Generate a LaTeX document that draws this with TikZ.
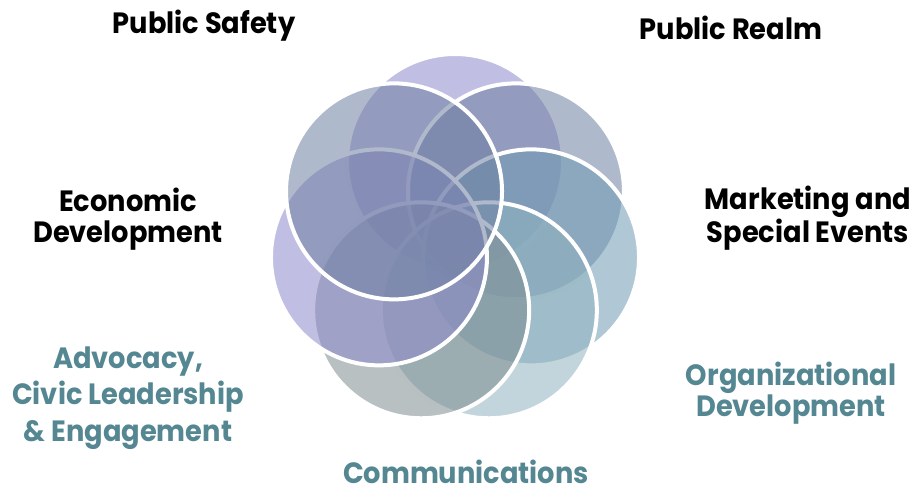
\documentclass[tikz,border=0pt]{standalone}
\usepackage{fontspec}
\newfontfamily\lblfont{Poppins}[FakeStretch=0.93]
\definecolor{petLav}{RGB}{141,137,202}
\definecolor{petSlate}{RGB}{110,128,162}
\definecolor{petSteel}{RGB}{111,155,180}
\definecolor{petAqua}{RGB}{144,179,191}
\definecolor{petSage}{RGB}{126,140,144}
\definecolor{lblTeal}{RGB}{84,135,146}
\tikzset{
  petal/.style={draw=white, line width=3pt, fill opacity=0.55},
  lbl/.style={font=\lblfont\bfseries\fontsize{22}{23.5}\selectfont, align=center, text=black},
  lblteal/.style={lbl, text=lblTeal}
}
\begin{document}
\begin{tikzpicture}[x=0.75pt, y=0.75pt]
        \useasboundingbox (0,0) rectangle (916,494);
        \coordinate (hub) at (455,254);
        \foreach \ang/\col in {90/petLav, 38.57/petSlate, -12.86/petSteel, -64.29/petAqua,
                               -115.71/petSage, -167.14/petLav, 141.43/petSlate}
          \draw[petal, fill=\col] (hub) ++(\ang:78) circle [radius=81pt];

        \node[lbl] (safety) at (204,468) {Public Safety};
        \node[lbl] (realm) at (731,466) {Public Realm};
        \node[lbl] (econ) at (128,275) {Economic\\Development};
        \node[lbl] (mkt) at (808,276) {Marketing and\\Special Events};
        \node[lblteal, font=\lblfont\bfseries\fontsize{22}{27.5}\selectfont] (advoc) at (128,96)
          {Advocacy,\\Civic Leadership\\\& Engagement};
        \node[lblteal] (org) at (791,101) {Organizational\\Development};
        \node[lblteal, anchor=base, inner sep=0pt] (comm) at (466,11) {Communications};
\end{tikzpicture}
\end{document}
